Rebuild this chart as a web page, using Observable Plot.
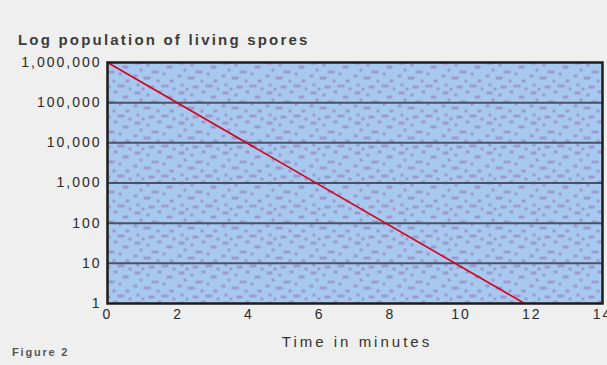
<!DOCTYPE html>
<html>
<head>
<meta charset="utf-8">
<script src="https://cdn.jsdelivr.net/npm/d3@7"></script>
<script src="https://cdn.jsdelivr.net/npm/@observablehq/plot@0.6"></script>
<style>
  html, body { margin: 0; padding: 0; background: #efefef; }
  #wrap { position: relative; width: 607px; height: 365px; overflow: hidden; }
  .txt { position: absolute; font-family: "Liberation Sans", Arial, sans-serif; color: #3a3a3a; white-space: nowrap; }
  #title { left: 18px; top: 31px; font-size: 15px; font-weight: bold; letter-spacing: 2.2px; color: #3c3c3c; }
  #xlabel { left: 0; width: 714px; text-align: center; top: 333px; font-size: 15px; letter-spacing: 3px; color: #333; }
  #fig { left: 12px; top: 346px; font-size: 11px; letter-spacing: 1.8px; color: #555; font-weight: bold; }
  svg text { letter-spacing: 2px; }
</style>
</head>
<body>
<div id="wrap">
  <div id="chart"></div>
  <div class="txt" id="title">Log population of living spores</div>
  <div class="txt" id="xlabel">Time in minutes</div>
  <div class="txt" id="fig">Figure 2</div>
</div>
<script>
// Data
const xTicks = [0, 2, 4, 6, 8, 10, 12, 14];
const yTicks = [1, 10, 100, 1000, 10000, 100000, 1000000];
const gridLevels = [10, 100, 1000, 10000, 100000];
const times = [0, 11.8];
const spores = [1000000, 1];

const decay = times.map((t, i) => ({t, n: spores[i]}));

const svg = Plot.plot({
  width: 607,
  height: 365,
  marginLeft: 107,
  marginRight: 5,
  marginTop: 62,
  marginBottom: 62,
  style: {background: "transparent", fontFamily: "Liberation Sans, Arial, sans-serif", fontSize: "14px", color: "#2a2a2a"},
  x: {domain: [0, 14], ticks: xTicks, tickSize: 0, tickPadding: 6, label: null, tickFormat: d3.format("d")},
  y: {type: "log", domain: [1, 1000000], ticks: yTicks, tickFormat: d3.format(","), tickSize: 0, tickPadding: 6, label: null},
  marks: [
    Plot.frame({fill: "url(#speckle)"}),
    Plot.ruleY(gridLevels, {stroke: "#4b5163", strokeWidth: 2}),
    Plot.line(decay, {x: "t", y: "n", stroke: "#d4001c", strokeWidth: 1.6}),
    Plot.frame({stroke: "#1c1c1c", strokeWidth: 2.5})
  ]
});

// decorative speckle texture for the plot background
const ns = "http://www.w3.org/2000/svg";
const defs = document.createElementNS(ns, "defs");
const pat = document.createElementNS(ns, "pattern");
pat.setAttribute("id", "speckle");
pat.setAttribute("width", "44");
pat.setAttribute("height", "30");
pat.setAttribute("patternUnits", "userSpaceOnUse");
const bg = document.createElementNS(ns, "rect");
bg.setAttribute("width", "44"); bg.setAttribute("height", "30"); bg.setAttribute("fill", "#a7c9ef");
pat.appendChild(bg);
const dots = [[2,1,6,3],[14,3,3,3],[25,0,4,3],[34,5,6,3],[7,8,3,3],[19,10,7,3],[30,12,3,3],[1,14,4,3],[11,16,7,3],[24,19,3,3],[37,19,4,3],[4,23,3,3],[16,25,6,3],[29,24,7,3],[40,27,3,3],[9,27,3,3]];
for (const [x, y, w, h] of dots) {
  const r = document.createElementNS(ns, "rect");
  r.setAttribute("x", x); r.setAttribute("y", y); r.setAttribute("width", w); r.setAttribute("height", h);
  r.setAttribute("fill", "#9d9acd");
  pat.appendChild(r);
}
defs.appendChild(pat);
svg.insertBefore(defs, svg.firstChild);

document.getElementById("chart").appendChild(svg);
</script>
</body>
</html>
